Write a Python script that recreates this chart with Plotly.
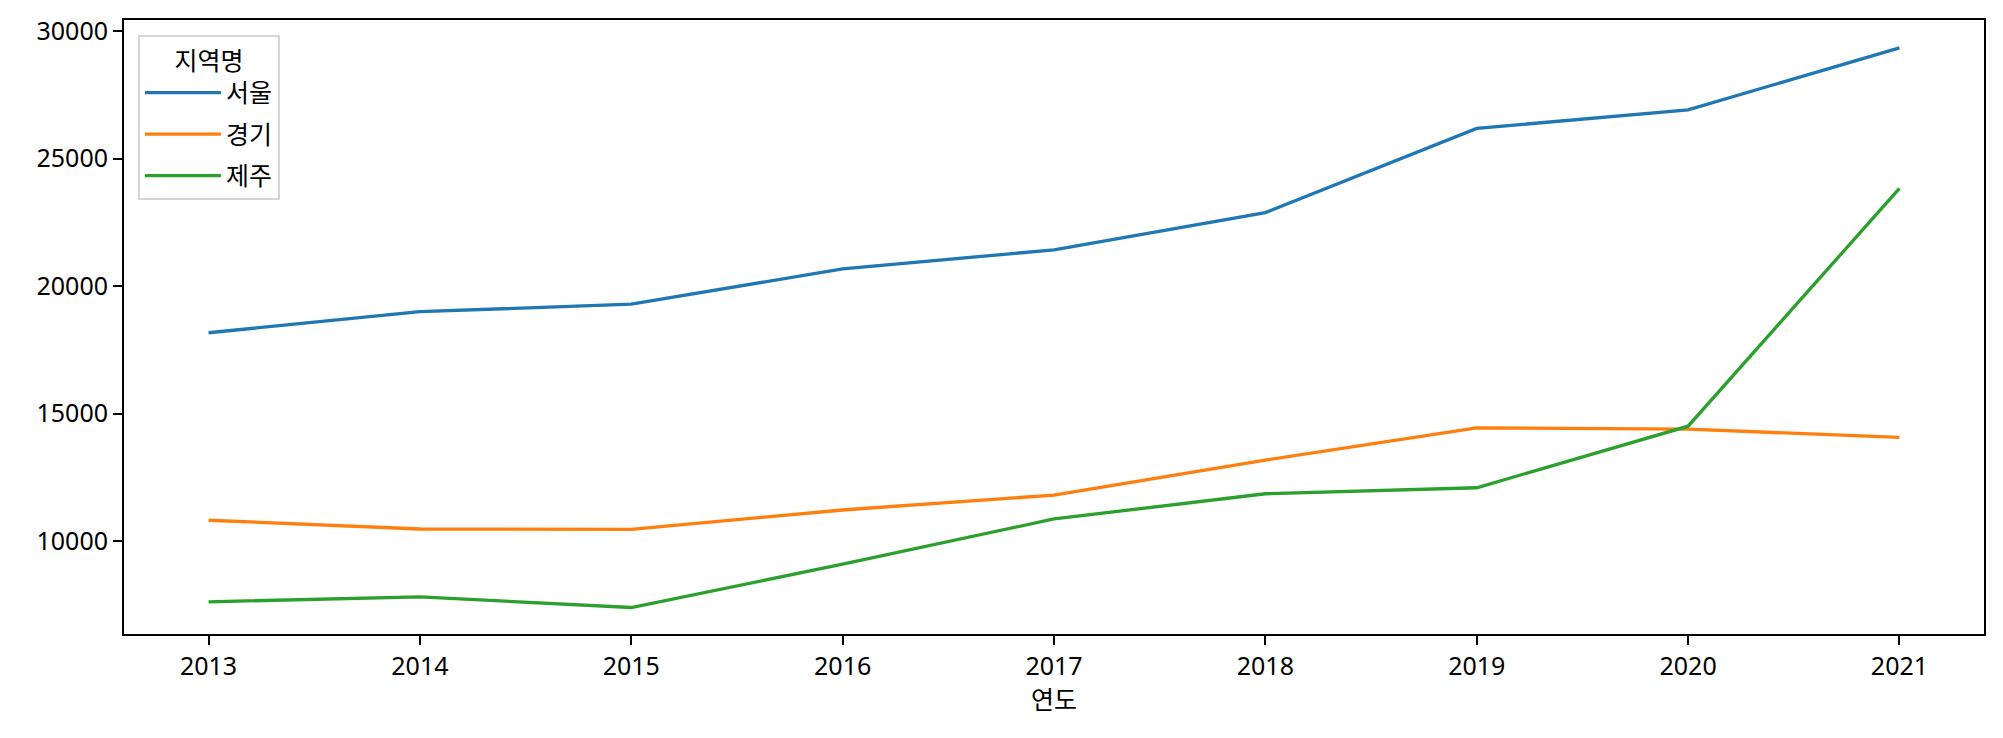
import plotly.graph_objects as go

years = [2013, 2014, 2015, 2016, 2017, 2018, 2019, 2020, 2021]
seoul = [18170, 18995, 19290, 20676, 21420, 22880, 26180, 26910, 29335]
gyeonggi = [10820, 10477, 10465, 11221, 11808, 13177, 14441, 14390, 14065]
jeju = [7621, 7817, 7398, 9096, 10869, 11858, 12093, 14507, 23830]
series_names = ["서울", "경기", "제주"]
series_values = [seoul, gyeonggi, jeju]
colors = ["#1f77b4", "#ff7f0e", "#2ca02c"]
y_ticks = [10000, 15000, 20000, 25000, 30000]

FONT = "Noto Sans, Noto Sans CJK KR"
FS = 25

fig = go.Figure()
for name, vals, col in zip(series_names, series_values, colors):
    fig.add_trace(go.Scatter(
        x=years, y=vals, mode="lines", name=name, legendgroup=name,
        line=dict(color=col, width=3.3),
    ))

fig.update_layout(
    width=1995, height=730,
    margin=dict(l=116, r=19, t=12, b=104, autoexpand=False),
    paper_bgcolor="white", plot_bgcolor="white",
    font=dict(family=FONT, size=FS, color="black"),
    showlegend=True,
    legend=dict(
        x=0.0075, y=0.975, xanchor="left", yanchor="top",
        bgcolor="white", bordercolor="#d6d6d6", borderwidth=2,
        font=dict(family=FONT, size=FS, color="black"),
        title=dict(text="지역명", side="top center", font=dict(family=FONT, size=FS)),
        tracegroupgap=6, itemwidth=76, entrywidth=100, entrywidthmode="pixels",
    ),
)
fig.update_xaxes(
    range=[2012.6, 2021.4], tickmode="array", tickvals=years,
    ticktext=[str(y) for y in years], automargin=False,
    showgrid=False, zeroline=False,
    showline=True, mirror=True, linecolor="black", linewidth=2,
    ticks="outside", ticklen=9, tickwidth=2, tickcolor="black",
    title=dict(text="연도", standoff=6, font=dict(family=FONT, size=FS)),
)
fig.update_yaxes(
    range=[6360, 30430], tickmode="array", tickvals=y_ticks,
    ticktext=[str(v) for v in y_ticks], automargin=False,
    showgrid=False, zeroline=False,
    showline=True, mirror=True, linecolor="black", linewidth=2,
    ticks="outside", ticklen=9, tickwidth=2, tickcolor="black",
)

fig.write_html("out.html")
